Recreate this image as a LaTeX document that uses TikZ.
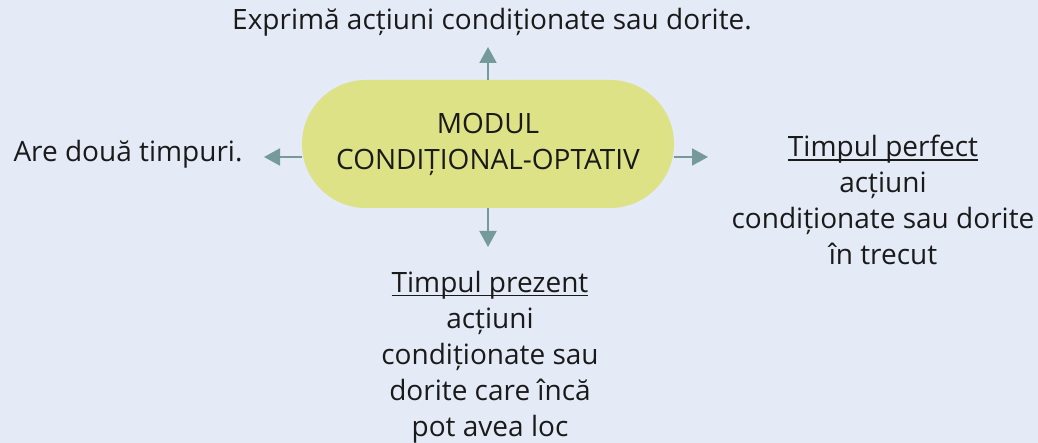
\documentclass[tikz,border=0pt]{standalone}
\usepackage{fontspec}
\setmainfont{Open Sans}
\usetikzlibrary{shapes.misc,arrows.meta}
\definecolor{bgc}{HTML}{E4EBF7}
\definecolor{pillc}{HTML}{DCE285}
\definecolor{arrc}{HTML}{76999A}
\definecolor{txtc}{HTML}{1A1A1A}
\newcommand\myul[1]{\setbox0\hbox{#1}\rlap{\rule[-4pt]{\wd0}{1.4pt}}\box0}
\tikzset{
  lbl/.style={text=txtc, inner sep=0pt, align=center, font=\fontsize{28}{36}\selectfont},
  pill/.style={rounded rectangle, fill=pillc, minimum width=372pt, minimum height=128pt, inner sep=0pt, text=txtc, align=center, font=\fontsize{28}{36}\selectfont},
  arr/.style={draw=arrc, line width=2pt, -{Triangle[length=16pt,width=17pt]}}
}
\begin{document}
\begin{tikzpicture}[x=1pt,y=-1pt]
\fill[bgc] (0,0) rectangle (1038,443);
\useasboundingbox (0,0) rectangle (1038,443);
\node[pill] (c) at (488,144) {MODUL\\CONDIȚIONAL-OPTATIV};
\node[lbl, anchor=base] (top) at (492,30) {Exprimă acțiuni condiționate sau dorite.};
\node[lbl, anchor=base] (left) at (128,162) {Are două timpuri.};
\node[lbl, anchor=north] (right) at (883,135) {\myul{Timpul perfect}\\acțiuni\\condiționate sau dorite\\în trecut};
\node[lbl, anchor=north] (bottom) at (490,271) {\myul{Timpul prezent}\\acțiuni\\condiționate sau\\dorite care încă\\pot avea loc};
\coordinate (tu) at (488,47);
\coordinate (td) at (488,247);
\coordinate (tl) at (264,157);
\coordinate (tr) at (708,157);
\draw[arr] (c.north) -- (tu);
\draw[arr] (c.south) -- (td);
\draw[arr] ([yshift=-13pt]c.west) -- (tl);
\draw[arr] ([yshift=-13pt]c.east) -- (tr);
\end{tikzpicture}
\end{document}
